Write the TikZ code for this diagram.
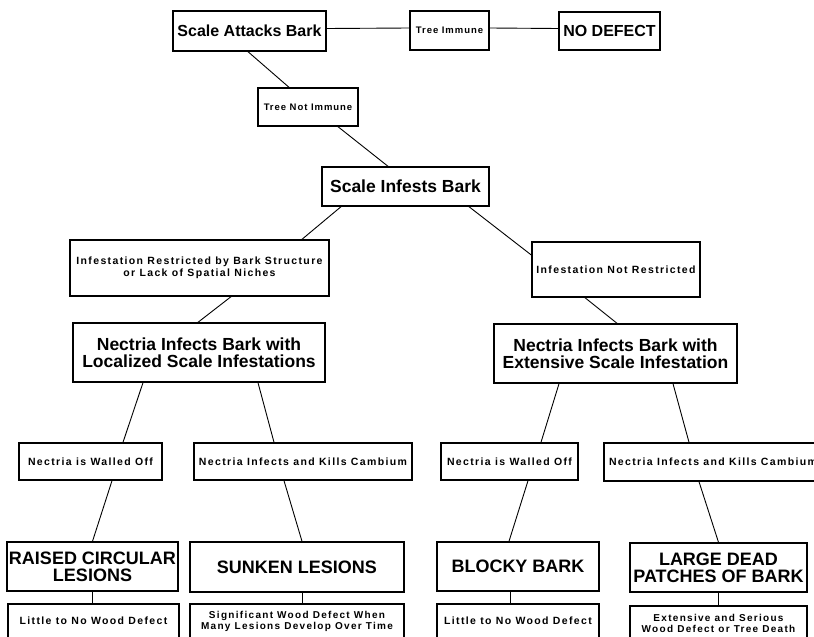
\documentclass[tikz,border=0pt]{standalone}
\usepackage{fontspec}
\setmainfont{Liberation Sans}
\newfontfamily\spacedfont[LetterSpace=13]{Liberation Sans Bold}
\newfontfamily\tightfont[LetterSpace=10]{Liberation Sans Bold}

\tikzset{
  box/.style={draw, line width=1.4pt, inner sep=0pt, align=center},
  bigbox/.style={box, font=\bfseries\fontsize{17.5}{16.5}\selectfont},
  midbox/.style={box, font=\bfseries\fontsize{16}{16}\selectfont},
  smallbox/.style={box, font=\spacedfont\fontsize{10.5}{12.5}\selectfont},
  tinybox/.style={box, font=\tightfont\fontsize{9.5}{10}\selectfont},
  link/.style={line width=0.9pt},
}

\begin{document}
\begin{tikzpicture}[x=1pt, y=-1pt]

    % --- Frame ---
    \useasboundingbox (0,0) rectangle (814,637);
    \fill[white] (0,0) rectangle (814,637);
    \clip (0,0) rectangle (814,637);

    % --- Top row ---
    \node[midbox, minimum width=153pt, minimum height=40pt] (attack) at (249.5,31) {Scale Attacks Bark};
    \node[tinybox, minimum width=79pt, minimum height=39pt] (immune) at (449.5,30.5) {Tree Immune};
    \node[midbox, minimum width=101pt, minimum height=38pt] (nodefect) at (609.5,31) {NO DEFECT};
    \node[tinybox, minimum width=100pt, minimum height=38pt] (notimm) at (308,107) {Tree Not Immune};

    % --- Infestation ---
    \node[bigbox, minimum width=167pt, minimum height=39pt] (infests) at (405.5,186.5) {Scale Infests Bark};
    \node[smallbox, minimum width=259pt, minimum height=56pt] (restr) at (199.5,268)
        {Infestation Restricted by Bark Structure\\or Lack of Spatial Niches};
    \node[smallbox, minimum width=168pt, minimum height=55pt] (notrestr) at (616,269.5) {Infestation Not Restricted};

    % --- Nectria ---
    \node[bigbox, minimum width=252pt, minimum height=59pt] (local) at (199,352.5)
        {Nectria Infects Bark with\\Localized Scale Infestations};
    \node[bigbox, minimum width=243pt, minimum height=59pt] (extens) at (615.5,353.5)
        {Nectria Infects Bark with\\Extensive Scale Infestation};

    % --- Host response ---
    \node[smallbox, minimum width=143pt, minimum height=37pt] (walledL) at (90.5,461.5) {Nectria is Walled Off};
    \node[smallbox, minimum width=218pt, minimum height=37pt] (killsL) at (303,461.5) {Nectria Infects and Kills Cambium};
    \node[smallbox, minimum width=137pt, minimum height=37pt] (walledR) at (509.5,461.5) {Nectria is Walled Off};
    \node[smallbox, minimum width=218pt, minimum height=38pt] (killsR) at (713,462) {Nectria Infects and Kills Cambium};

    % --- Symptoms ---
    \node[bigbox, font=\bfseries\fontsize{18}{17}\selectfont, minimum width=171pt, minimum height=49pt] (raised) at (92.5,566.5) {RAISED CIRCULAR\\LESIONS};
    \node[bigbox, font=\bfseries\fontsize{18}{17}\selectfont, minimum width=214pt, minimum height=50pt] (sunken) at (297,567) {SUNKEN LESIONS};
    \node[bigbox, font=\bfseries\fontsize{18}{17}\selectfont, minimum width=162pt, minimum height=49pt] (blocky) at (518,566.5) {BLOCKY BARK};
    \node[bigbox, font=\bfseries\fontsize{18}{17}\selectfont, minimum width=177pt, minimum height=49pt] (large) at (718.5,567.5) {LARGE DEAD\\PATCHES OF BARK};

    % --- Wood defect (cut by the lower edge) ---
    \node[smallbox, minimum width=171pt, minimum height=34pt] (littleL) at (93.5,621) {Little to No Wood Defect};
    \node[smallbox, font=\spacedfont\fontsize{10}{11}\selectfont, minimum width=214pt, minimum height=34pt] (signif) at (297,621)
        {Significant Wood Defect When\\Many Lesions Develop Over Time};
    \node[smallbox, minimum width=162pt, minimum height=34pt] (littleR) at (518,621) {Little to No Wood Defect};
    \node[smallbox, font=\spacedfont\fontsize{10}{11}\selectfont, minimum width=177pt, minimum height=34pt] (serious) at (718.5,623)
        {Extensive and Serious\\Wood Defect or Tree Death};

    % --- Connectors ---
    \draw[link] ([yshift=2.5pt]attack.east) -- ([yshift=2.5pt]immune.west);
    \draw[link] ([yshift=2.5pt]immune.east) -- ([yshift=2.5pt]nodefect.west);
    \draw[link] ([xshift=-1.5pt]attack.south) -- ([xshift=-19pt]notimm.north);
    \draw[link] ([xshift=30pt]notimm.south) -- ([xshift=-17.5pt]infests.north);
    \draw[link] ([xshift=-64.5pt]infests.south) -- ([xshift=102.5pt]restr.north);
    \draw[link] ([xshift=63.5pt]infests.south) -- ([yshift=14.5pt]notrestr.west);
    \draw[link] ([xshift=31.5pt]restr.south) -- ([xshift=-1pt]local.north);
    \draw[link] ([xshift=-31pt]notrestr.south) -- ([xshift=1.5pt]extens.north);

    \draw[link] ([xshift=-56pt]local.south) -- ([xshift=32.5pt]walledL.north);
    \draw[link] ([xshift=59pt]local.south) -- ([xshift=-29pt]killsL.north);
    \draw[link] ([xshift=-56.5pt]extens.south) -- ([xshift=31.5pt]walledR.north);
    \draw[link] ([xshift=57.5pt]extens.south) -- ([xshift=-24pt]killsR.north);

    \draw[link] ([xshift=21.5pt]walledL.south) -- (raised.north);
    \draw[link] ([xshift=-19pt]killsL.south) -- ([xshift=5pt]sunken.north);
    \draw[link] ([xshift=18.5pt]walledR.south) -- ([xshift=-9pt]blocky.north);
    \draw[link] ([xshift=-14pt]killsR.south) -- (large.north);

    \draw[link] (raised.south) -- (raised.south |- littleL.north);
    \draw[link] ([xshift=5pt]sunken.south) -- ([xshift=5pt]sunken.south |- signif.north);
    \draw[link] ([xshift=-8pt]blocky.south) -- ([xshift=-8pt]blocky.south |- littleR.north);
    \draw[link] (large.south) -- (large.south |- serious.north);

\end{tikzpicture}
\end{document}
